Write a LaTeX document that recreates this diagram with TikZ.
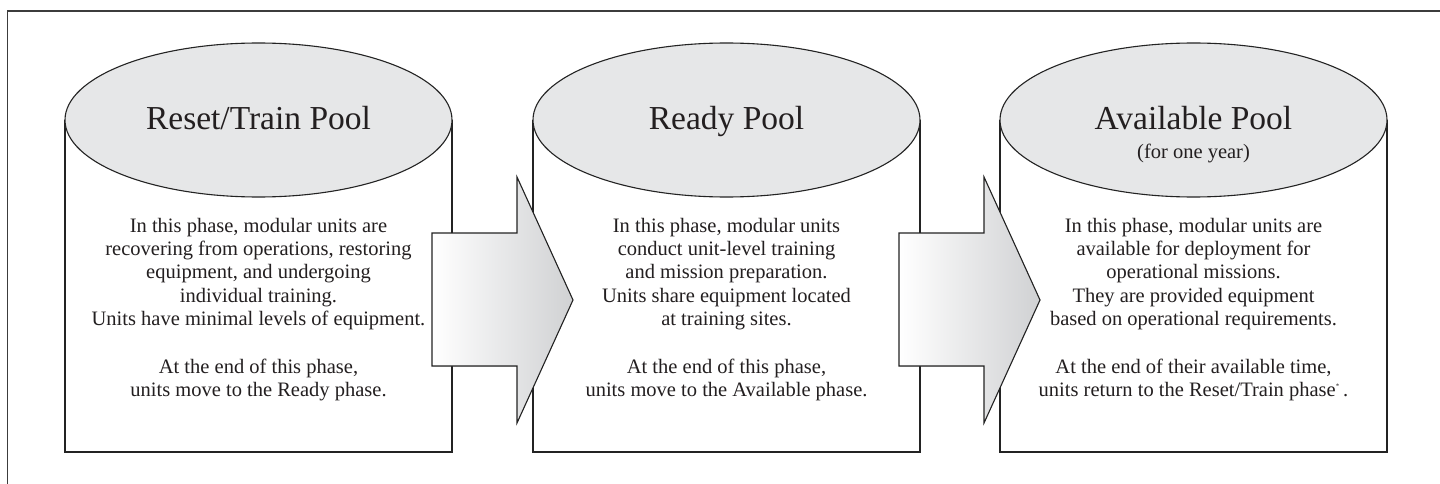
\documentclass[tikz,border=0pt]{standalone}
\usepackage{fontspec}
\setmainfont{Liberation Serif}
\definecolor{poolgray}{RGB}{230,231,232}
\definecolor{linec}{RGB}{35,35,35}
\definecolor{framec}{RGB}{60,60,60}
\definecolor{arrowgray}{RGB}{208,209,211}
\definecolor{textc}{RGB}{35,31,32}
\tikzset{
  cylside/.style={draw=linec, line width=1.1pt, fill=white},
  cyltop/.style={draw=linec, line width=1.1pt, fill=poolgray},
  flowarrow/.style={draw=linec, line width=1.1pt, left color=white, right color=arrowgray},
  frameline/.style={draw=framec, line width=1.4pt},
  titletext/.style={font=\fontsize{33.5}{40}\selectfont, inner sep=0pt, anchor=base, text=textc},
  subtext/.style={font=\fontsize{20.5}{23.3}\selectfont, inner sep=0pt, anchor=base, text=textc},
  bodytext/.style={font=\fontsize{20.5}{23.3}\selectfont, inner sep=0pt, anchor=north, align=center, text=textc},
}
\begin{document}
\begin{tikzpicture}[x=1pt,y=-1pt]
\useasboundingbox (0,0) rectangle (1440,484);
% outer frame (cropped at right and bottom)
\coordinate (fbl) at (7.5,486);
\coordinate (ftl) at (7.5,11);
\coordinate (ftr) at (1442,11);
\draw[frameline] (fbl) -- (ftl) -- (ftr);

% cylinders
\filldraw[cylside] (65,120) -- (65,452) -- (452,452) -- (452,120);
\draw[cyltop] (258.5,120) ellipse [x radius=193.5pt, y radius=77pt];
\filldraw[cylside] (533,120) -- (533,452) -- (920,452) -- (920,120);
\draw[cyltop] (726.5,120) ellipse [x radius=193.5pt, y radius=77pt];
\filldraw[cylside] (1000,120) -- (1000,452) -- (1387,452) -- (1387,120);
\draw[cyltop] (1193.5,120) ellipse [x radius=193.5pt, y radius=77pt];

% arrows
\filldraw[flowarrow] (432,233) -- (517,233) -- (517,177) -- (573,300) -- (517,423) -- (517,366) -- (432,366) -- cycle;
\filldraw[flowarrow] (899,233) -- (984,233) -- (984,177) -- (1040,300) -- (984,423) -- (984,366) -- (899,366) -- cycle;

% titles
\node[titletext] (t1) at (258.5,130) {Reset/Train Pool};
\node[titletext] (t2) at (726.5,130) {Ready Pool};
\node[titletext] (t3) at (1193.5,130) {Available Pool};
\node[subtext] (t3s) at (1193.5,158) {(for one year)};

% bodies
\node[bodytext] (b1) at (258.5,217) {\rule{0pt}{15pt}In this phase, modular units are\\
recovering from operations, restoring\\
equipment, and undergoing\\
individual training.\\
Units have minimal levels of equipment.\\[24.4pt]
At the end of this phase,\\
units move to the Ready phase.};
\node[bodytext] (b2) at (726.5,217) {\rule{0pt}{15pt}In this phase, modular units\\
conduct unit-level training\\
and mission preparation.\\
Units share equipment located\\
at training sites.\\[24.4pt]
At the end of this phase,\\
units move to the Available phase.};
\node[bodytext] (b3) at (1193.5,217) {\rule{0pt}{15pt}In this phase, modular units are\\
available for deployment for\\
operational missions.\\
They are provided equipment\\
based on operational requirements.\\[24.4pt]
At the end of their available time,\\
units return to the Reset/Train phase\textsuperscript{\scriptsize *}\,.};
\end{tikzpicture}
\end{document}
